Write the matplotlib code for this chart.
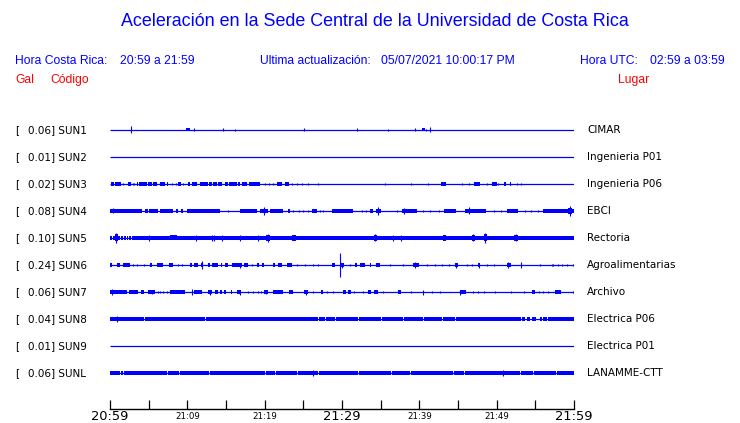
import matplotlib
matplotlib.use("Agg")
import matplotlib.pyplot as plt

# Datos (tiempo en minutos desde 20:59, amplitud en pixeles)

codigos = ["SUN1", "SUN2", "SUN3", "SUN4", "SUN5", "SUN6", "SUN7", "SUN8", "SUN9", "SUNL"]
gal = [0.06, 0.01, 0.02, 0.08, 0.10, 0.24, 0.06, 0.04, 0.01, 0.06]
lugares = ["CIMAR", "Ingenieria P01", "Ingenieria P06", "EBCI", "Rectoria",
           "Agroalimentarias", "Archivo", "Electrica P06", "Electrica P01", "LANAMME-CTT"]

tick_min = list(range(0, 61, 5))
etiq_min = [0, 10, 20, 30, 40, 50, 60]
etiq_txt = ["20:59", "21:09", "21:19", "21:29", "21:39", "21:49", "21:59"]

# rafagas: (inicio, fin, semi-amplitud) ; picos: (tiempo, semi-amplitud)
sun1_rafagas = [(9.8, 10.3, 1.5), (40.3, 40.7, 1.5)]
sun1_picos = [(2.7, 3.5), (10.8, 1.5), (14.65, 1.5), (16.1, 1), (25.1, 1.5), (31.9, 1.5),
              (36.0, 1), (39.5, 1.5), (40.9, 1), (41.4, 2.5)]

sun2_rafagas = []
sun2_picos = []

sun3_rafagas = [(0.13, 0.52, 1.6), (0.65, 1.38, 1.6), (2.28, 2.72, 1.6), (3.45, 3.66, 1.6),
                (3.79, 4.74, 1.6), (4.87, 5.39, 1.6), (5.6, 6.03, 1.6), (6.47, 7.11, 1.6),
                (7.33, 7.54, 1.6), (8.84, 9.18, 1.6), (10.04, 10.34, 1.6), (10.65, 11.2, 1.6),
                (11.64, 12.63, 1.6), (12.84, 13.15, 1.6), (13.36, 13.79, 1.6), (14.0, 14.44, 1.6),
                (14.87, 15.2, 1.6), (15.39, 16.38, 1.6), (16.5, 16.81, 1.6), (17.03, 17.67, 1.6),
                (18.0, 19.4, 1.6), (21.55, 22.2, 1.6), (22.63, 23.15, 1.6), (42.8, 43.4, 1.6),
                (47.1, 47.8, 1.6), (49.4, 50.0, 1.6), (50.95, 51.2, 1.6), (51.7, 51.9, 1.6)]
sun3_picos = [(1.72, 1.2), (3.02, 1.2), (3.15, 1.2), (7.97, 1.2), (8.53, 1.2), (9.48, 1.2),
              (20.04, 1.2), (20.56, 1.2), (21.12, 1.2), (23.58, 1.2), (24.22, 1.2),
              (24.78, 1.2), (25.65, 1.2), (26.94, 1.2), (35.56, 1.2), (38.97, 1.2),
              (41.16, 1.2), (45.56, 1.2), (46.47, 1.2), (48.7, 1.2), (50.2, 1.2),
              (52.67, 1.2), (53.2, 1.2)]

sun4_rafagas = [(0, 4.1, 2.0), (4.53, 4.87, 2.0), (5.09, 6.25, 2.0), (6.47, 8.19, 2.0),
                (8.49, 8.75, 2.0), (9.18, 9.48, 2.0), (9.91, 14.22, 2.0), (16.8, 18.97, 2.0),
                (19.4, 20.47, 2.0), (20.69, 22.41, 2.0), (22.97, 23.28, 2.0), (26.08, 26.72, 2.0),
                (28.66, 31.38, 2.0), (33.6, 34.05, 2.0), (34.4, 35.1, 2.4), (37.8, 39.7, 2.0),
                (43.2, 44.8, 2.0), (45.9, 48.6, 2.0), (51.3, 52.8, 2.0), (56.0, 60.0, 2.0),
                (59.2, 59.8, 3)]
sun4_picos = [(0.4, 2.5), (19.96, 4), (34.6, 4), (38.0, 3), (46.4, 3.5), (59.5, 5),
              (15.3, 1.2), (23.7, 1.2), (24.48, 1.2), (25.0, 1.2), (25.56, 1.2), (27.16, 1.2),
              (27.59, 1.2), (32.54, 1.2), (33.1, 1.2), (37.07, 1.2), (40.5, 1.2), (41.4, 1.2),
              (42.5, 1.2), (49.6, 1.2), (50.6, 1.2), (53.7, 1.2), (54.5, 1.2), (55.4, 1.2)]

sun5_rafagas = [(0.6, 1.0, 3.5), (7.76, 8.62, 2.5), (20.2, 20.7, 3), (23.5, 24.0, 2.6),
                (34.1, 34.5, 2.8), (43.0, 43.4, 2.6), (46.8, 47.2, 2.8), (48.3, 48.7, 3.5),
                (52.3, 52.7, 2.8), (59.6, 60.0, 2.4)]
sun5_picos = [(0.8, 5), (20.47, 4), (34.27, 3.5), (47.0, 3.5), (48.5, 5), (52.5, 3.5),
              (5.09, 2.6), (11.08, 2.6), (13.2, 2.6), (13.5, 2.6), (14.44, 2.6), (16.81, 2.6),
              (19.18, 2.6), (36.6, 2.6), (37.6, 2.6)]
sun5_banda = 2.0
sun5_huecos = [(0.25, 0.45), (1.29, 1.42), (1.72, 1.85), (2.03, 2.15), (2.37, 2.5), (2.72, 2.85)]

sun6_rafagas = [(0, 0.3, 1.6), (0.86, 1.29, 1.6), (1.72, 2.59, 1.6), (5.17, 5.47, 1.6),
                (6.03, 6.9, 1.6), (7.63, 8.19, 1.6), (10.34, 10.65, 1.6), (10.9, 11.42, 1.6),
                (11.72, 12.07, 1.6), (12.72, 12.93, 1.6), (13.15, 14.0, 1.6), (14.35, 14.53, 1.6),
                (14.87, 15.2, 1.6), (15.73, 17.03, 1.6), (17.37, 17.89, 1.6), (18.97, 19.27, 1.6),
                (19.61, 19.96, 1.6), (21.12, 21.34, 1.6), (21.77, 22.2, 1.6), (22.84, 23.49, 1.6),
                (28.66, 29.1, 1.6), (29.74, 30.26, 2), (31.7, 31.9, 1.6), (32.3, 33.0, 1.6),
                (33.6, 33.8, 1.6), (34.4, 34.9, 1.6), (39.2, 39.9, 1.8), (44.6, 45.0, 1.8),
                (47.6, 47.9, 1.8), (51.3, 51.8, 1.8)]
sun6_picos = [(11.85, 4), (16.81, 2.5), (29.78, 12), (30.0, 2.5), (39.5, 3), (44.8, 2.5),
              (47.7, 2.5), (51.5, 3), (53.2, 3),
              (3.02, 1.2), (3.45, 1.2), (4.44, 1.2), (8.84, 1.2), (9.27, 1.2), (18.32, 1.2),
              (24.14, 1.2), (25.22, 1.2), (26.29, 1.2), (26.94, 1.2), (31.03, 1.2), (36.2, 1.2),
              (37.9, 1.2), (41.0, 1.2), (42.0, 1.2), (42.9, 1.2), (43.8, 1.2), (46.1, 1.2),
              (46.8, 1.2), (48.7, 1.2), (49.6, 1.2), (55.6, 1.2), (57.1, 1.2), (57.3, 1.2),
              (57.9, 1.2), (58.4, 1.2), (59.1, 1.2), (59.9, 1.2)]

sun7_rafagas = [(0, 2.16, 1.6), (2.46, 3.58, 1.6), (4.0, 4.44, 1.6), (4.87, 5.82, 1.6),
                (7.76, 9.7, 1.6), (10.9, 11.85, 1.6), (12.72, 13.15, 1.6), (13.58, 13.93, 1.6),
                (14.22, 14.44, 1.6), (14.78, 14.96, 1.6), (15.65, 15.82, 1.6), (16.4, 17.0, 1.6),
                (19.96, 20.47, 1.6), (21.1, 22.4, 1.6), (23.19, 23.62, 1.6), (25.1, 25.6, 1.6),
                (27.28, 27.59, 1.6), (30.1, 30.5, 1.6), (30.8, 31.1, 1.6), (33.4, 33.8, 1.6),
                (34.2, 34.6, 1.6), (37.3, 37.6, 1.6), (45.2, 46.0, 1.6), (54.6, 54.9, 1.6),
                (57.5, 58.3, 1.6)]
sun7_picos = [(0.3, 3), (5.39, 2), (10.56, 3), (12.93, 2.5), (16.8, 2.5), (20.2, 2),
              (25.35, 2.5), (40.5, 2.5), (45.3, 2.5),
              (6.16, 1.2), (6.47, 1.2), (6.9, 1.2), (7.33, 1.2), (17.8, 1.2), (18.53, 1.2),
              (19.09, 1.2), (19.48, 1.2), (26.29, 1.2), (28.02, 1.2), (28.79, 1.2),
              (31.5, 1.2), (32.7, 1.2), (35.3, 1.2), (38.9, 1.2), (41.6, 1.2), (42.7, 1.2),
              (46.98, 1.2), (47.6, 1.2), (48.3, 1.2), (49.8, 1.2), (51.8, 1.2), (53.5, 1.2),
              (55.5, 1.2), (56.0, 1.2), (56.6, 1.2), (59.9, 1.2)]

sun8_rafagas = []
sun8_picos = [(0.95, 2.6)]
sun8_banda = 2.0
sun8_huecos = [(4.44, 4.56), (12.28, 12.4), (26.94, 27.06), (27.8, 27.92), (29.1, 29.22),
               (32.1, 32.22), (35.1, 35.22), (37.9, 38.02), (40.5, 40.62), (42.9, 43.02),
               (44.6, 44.72), (53.2, 53.3), (53.6, 53.9), (54.3, 54.6), (55.1, 55.6),
               (55.8, 56.0), (56.5, 56.7)]

sun9_rafagas = []
sun9_picos = []

sunl_rafagas = []
sunl_picos = [(26.3, 2.6), (50.8, 3)]
sunl_banda = 1.8
sunl_huecos = [(1.29, 1.4), (1.72, 1.83), (7.33, 7.44), (8.92, 9.03), (11.2, 11.31),
               (12.84, 12.95), (20.04, 20.15), (21.34, 21.45), (22.84, 22.95), (24.14, 24.25),
               (26.94, 27.05), (31.5, 31.61), (32.1, 32.21), (36.4, 36.51), (38.8, 38.91),
               (44.4, 44.51), (45.8, 45.91), (48.7, 48.81), (53.0, 53.11), (54.7, 54.81),
               (57.7, 57.81)]

rafagas = [sun1_rafagas, sun2_rafagas, sun3_rafagas, sun4_rafagas, sun5_rafagas,
           sun6_rafagas, sun7_rafagas, sun8_rafagas, sun9_rafagas, sunl_rafagas]
picos = [sun1_picos, sun2_picos, sun3_picos, sun4_picos, sun5_picos,
         sun6_picos, sun7_picos, sun8_picos, sun9_picos, sunl_picos]
bandas = {4: (sun5_banda, sun5_huecos), 7: (sun8_banda, sun8_huecos),
          9: (sunl_banda, sunl_huecos)}

azul = "#0000ff"
rojo = "#ff0000"
W, H = 740, 423
PX = 27.0  # pixeles entre trazas

fig = plt.figure(figsize=(W / 100, H / 100), dpi=100)
fig.patch.set_facecolor("white")


def fx(x):
    return x / W


def fy(y):
    return 1 - y / H


# encabezado
hf = "Liberation Sans"
fig.text(fx(375), fy(22), "Aceleración en la Sede Central de la Universidad de Costa Rica",
         ha="center", va="center", color=azul, fontsize=12.9, family=hf)
fig.text(fx(15), fy(61), "Hora Costa Rica:", va="center", color=azul, fontsize=8.7, family=hf)
fig.text(fx(120), fy(61), "20:59 a 21:59", va="center", color=azul, fontsize=8.7, family=hf)
fig.text(fx(260), fy(61), "Ultima actualización:", va="center", color=azul, fontsize=8.7, family=hf)
fig.text(fx(381), fy(61), "05/07/2021 10:00:17 PM", va="center", color=azul, fontsize=8.7, family=hf)
fig.text(fx(580), fy(61), "Hora UTC:", va="center", color=azul, fontsize=8.7, family=hf)
fig.text(fx(725), fy(61), "02:59 a 03:59", ha="right", va="center", color=azul, fontsize=8.7, family=hf)
fig.text(fx(15), fy(80), "Gal", va="center", color=rojo, fontsize=8.7, family=hf)
fig.text(fx(50), fy(80), "Código", va="center", color=rojo, fontsize=8.7, family=hf)
fig.text(fx(649), fy(80), "Lugar", ha="right", va="center", color=rojo, fontsize=8.7, family=hf)

ax = fig.add_axes([fx(110), fy(409), 464 / W, 292 / H])
ax.set_xlim(0, 60)
ax.set_ylim(-9 - 36 / PX, 13 / PX)
for s in ["left", "right", "top"]:
    ax.spines[s].set_visible(False)
ax.spines["bottom"].set_linewidth(1.0)
ax.set_yticks([])
ax.set_xticks(tick_min)
ax.set_xticklabels([])
ax.tick_params(axis="x", direction="in", length=6.5, width=0.9)

for m, txt in zip(etiq_min, etiq_txt):
    grande = m % 30 == 0
    ax.text(m, -7 / 292, txt, transform=ax.get_xaxis_transform(), ha="center", va="center",
            fontsize=9.4 if grande else 6.2)

for i, cod in enumerate(codigos):
    y0 = -i
    ax.plot([0, 60], [y0, y0], color=azul, lw=0.9, solid_capstyle="butt")
    if i in bandas:
        a, huecos = bandas[i]
        bordes = [0] + [v for h in huecos for v in h] + [60]
        for t0, t1 in zip(bordes[0::2], bordes[1::2]):
            ax.fill_between([t0, t1], y0 - a / PX, y0 + a / PX, color=azul, lw=0,
                            antialiased=False)
    for t0, t1, a in rafagas[i]:
        ax.fill_between([t0, t1], y0 - a / PX, y0 + a / PX, color=azul, lw=0,
                        antialiased=False)
    for t, a in picos[i]:
        ax.vlines(t, y0 - a / PX, y0 + a / PX, color=azul, lw=0.8)

    yy = 130 + i * PX
    fig.text(fx(15), fy(yy), "[", va="center", fontsize=7.5)
    fig.text(fx(28), fy(yy), "%4.2f] %s" % (gal[i], cod), va="center", fontsize=7.5)
    fig.text(fx(587), fy(yy), lugares[i], va="center", fontsize=7.5)

fig.savefig("out.png", dpi=100, facecolor="white")
